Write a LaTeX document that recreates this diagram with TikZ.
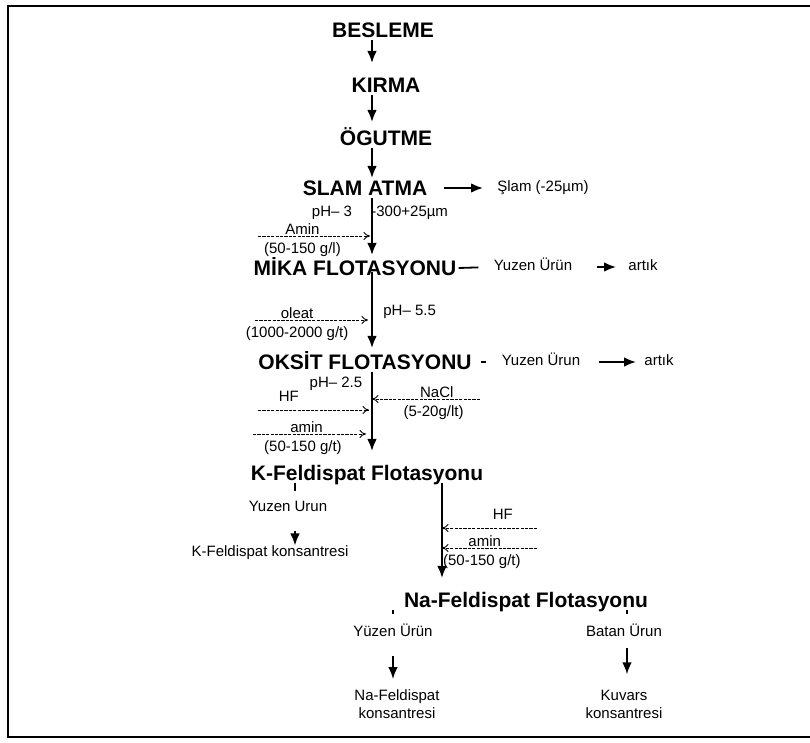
\documentclass[tikz,border=0pt]{standalone}
\usepackage{fontspec}
\setmainfont{Liberation Sans}
\usetikzlibrary{arrows.meta}
\newcommand{\hdrfont}{\fontsize{10.5}{12}\selectfont\bfseries}
\newcommand{\lblfont}{\fontsize{7.5}{9}\selectfont}

\begin{document}
\begin{tikzpicture}[
    x=0.5pt, y=-0.5pt,
    >={Latex[length=6pt,width=4.8pt]},
    stage/.style={font=\hdrfont, inner sep=1pt, text height=7.6pt, text depth=0pt},
    lbl/.style={font=\lblfont, inner sep=1pt, text height=5.5pt, text depth=1.6pt},
    twoline/.style={font=\lblfont, inner sep=1pt, align=center},
    % main stream arrows
    flow/.style={->, line width=0.9pt},
    % reagent additions
    feed/.style={-{To[length=3.2pt,width=4pt]}, line width=0.45pt,
        dash pattern=on 1.6pt off 0.6pt},
    % reagent names over / doses under the feed lines
    over/.style={lbl, above=-2pt},
    under/.style={lbl, below=2pt},
    tick/.style={line width=0.6pt},
    frame/.style={line width=1.1pt},
]
\useasboundingbox (0,0) rectangle (810,743);

%% =================================================================
%% Frame (open at the right)
%% =================================================================
\coordinate (fTL) at (8,6);
\coordinate (fBL) at (8,737);
\coordinate (fTR) at (810,6);
\coordinate (fBR) at (810,737);
\draw[frame] (fTR) -- (fTL) -- (fBL) -- (fBR);

%% =================================================================
%% Main stages
%% =================================================================
\coordinate (spine) at (372,0);
\coordinate (kspine) at (442,0);

\node[stage] (besleme) at (383,30)  {BESLEME};
\node[stage] (kirma)   at (386,85)  {KIRMA};
\node[stage] (ogutme)  at (386,138) {ÖGUTME};
\node[stage] (slam)    at (365,188) {SLAM ATMA};
\node[stage] (mika)    at (355,268) {MİKA FLOTASYONU};
\node[stage] (oksit)   at (365,362) {OKSİT FLOTASYONU};
\node[stage] (kfeld)   at (367,473) {K-Feldispat Flotasyonu};
\node[stage] (nafeld)  at (526,600) {Na-Feldispat Flotasyonu};

\draw[flow, shorten >=6pt] (besleme.south -| spine) -- (kirma.north -| spine);
\draw[flow, shorten >=3pt] (kirma.south -| spine) -- (ogutme.north -| spine);
\draw[flow] (ogutme.south -| spine) -- (slam.north -| spine);
\draw[flow, shorten >=1.5pt] (slam.south -| spine) -- (mika.north -| spine);
\draw[flow, shorten <=-3pt, shorten >=2pt] (mika.south -| spine) -- (oksit.north -| spine);
\draw[flow, shorten >=6pt] (oksit.south -| spine) -- (kfeld.north -| spine);
\draw[flow, shorten >=6pt] (kfeld.south -| kspine) -- (nafeld.north -| kspine);

%% =================================================================
%% Side products
%% =================================================================
\node[lbl, anchor=west] (slamout) at (495,188) {Şlam (-25µm)};
\draw[flow, shorten <=7pt, shorten >=6pt] (slam.east) -- (slamout.west);

\node[lbl] (yuzen1) at (533,267) {Yuzen Ürün};
\node[lbl] (artik1) at (643,267) {artık};
\draw[line width=0.9pt, shorten >=6.5pt] (mika.east) -- (yuzen1.west);
\draw[flow, shorten <=11pt, shorten >=5pt] (yuzen1.east) -- (artik1.west);

\node[lbl] (yuzen2) at (541,362) {Yuzen Ürun};
\node[lbl] (artik2) at (659,362) {artık};
\draw[line width=0.9pt, shorten <=3.5pt, shorten >=6.5pt] (oksit.east) -- (yuzen2.west);
\draw[flow, shorten <=8pt, shorten >=3pt] (yuzen2.east) -- (artik2.west);

%% =================================================================
%% Conditions and reagents
%% =================================================================
\node[lbl] (ph1) at (332,213) {pH– 3};
\node[lbl, anchor=west, inner sep=0pt] (size1) at (371,213) {-300+25µm};
\node[lbl, anchor=west] (ph2) at (381,312) {pH– 5.5};
\node[lbl] (ph3) at (336,384) {pH– 2.5};

\coordinate (aminIn) at (258,236);
\draw[feed, shorten >=1pt] (aminIn) -- node[over, pos=.39] {Amin}
    node[under, pos=.39] {(50-150 g/l)} (aminIn -| spine);

\coordinate (oleatIn) at (255,320);
\draw[feed, shorten >=2pt] (oleatIn) -- node[over, pos=.36] {oleat}
    node[under, pos=.36] {(1000-2000 g/t)} (oleatIn -| spine);

\coordinate (hfIn) at (258,410);
\draw[feed, shorten >=1.5pt] (hfIn) -- node[over, pos=.27, yshift=3.5pt] {HF}
    (hfIn -| spine);

\coordinate (aminIn2) at (253,434);
\draw[feed, shorten >=3pt] (aminIn2) -- node[over, pos=.45] {amin}
    node[under, pos=.42] {(50-150 g/t)} (aminIn2 -| spine);

\coordinate (naclIn) at (480,399);
\draw[feed] (naclIn) -- node[over, pos=.4] {NaCl}
    node[under, pos=.43] {(5-20g/lt)} (naclIn -| spine);

\coordinate (hfIn2) at (537,528);
\draw[feed] (hfIn2) -- node[over, pos=.36, yshift=3.5pt] {HF} (hfIn2 -| kspine);

\coordinate (aminIn3) at (537,548);
\draw[feed] (aminIn3) -- node[over, pos=.55] {amin}
    node[under, pos=.58] {(50-150 g/t)} (aminIn3 -| kspine);

%% =================================================================
%% K-Feldispat branch
%% =================================================================
\coordinate (kx) at (295,0);
\node[lbl] (kyuzen) at (288,508) {Yuzen Urun};
\node[lbl] (kkons)  at (270,553) {K-Feldispat konsantresi};
\draw[tick, shorten >=3.5pt] (kfeld.south -| kx) -- (kyuzen.north -| kx);
\draw[flow, shorten <=7pt, shorten >=-1pt] (kyuzen.south -| kx) -- (kkons.north -| kx);

%% =================================================================
%% Na-Feldispat branch
%% =================================================================
\coordinate (nx) at (393,0);
\coordinate (bx) at (627,0);
\node[lbl] (nyuzen) at (393,633) {Yüzen Ürün};
\node[lbl] (batan)  at (624,633) {Batan Ürun};
\node[twoline] (nkons)  at (397,704) {Na-Feldispat\\konsantresi};
\node[twoline] (kuvars) at (624,704) {Kuvars\\konsantresi};

\draw[tick, shorten >=4.5pt] (nafeld.south -| nx) -- (nyuzen.north -| nx);
\draw[tick, shorten >=4.5pt] (nafeld.south -| bx) -- (batan.north -| bx);
\draw[flow, shorten <=7pt, shorten >=4pt] (nyuzen.south -| nx) -- (nkons.north -| nx);
\draw[flow, shorten <=3pt, shorten >=6.5pt] (batan.south -| bx) -- (kuvars.north -| bx);

\end{tikzpicture}
\end{document}
